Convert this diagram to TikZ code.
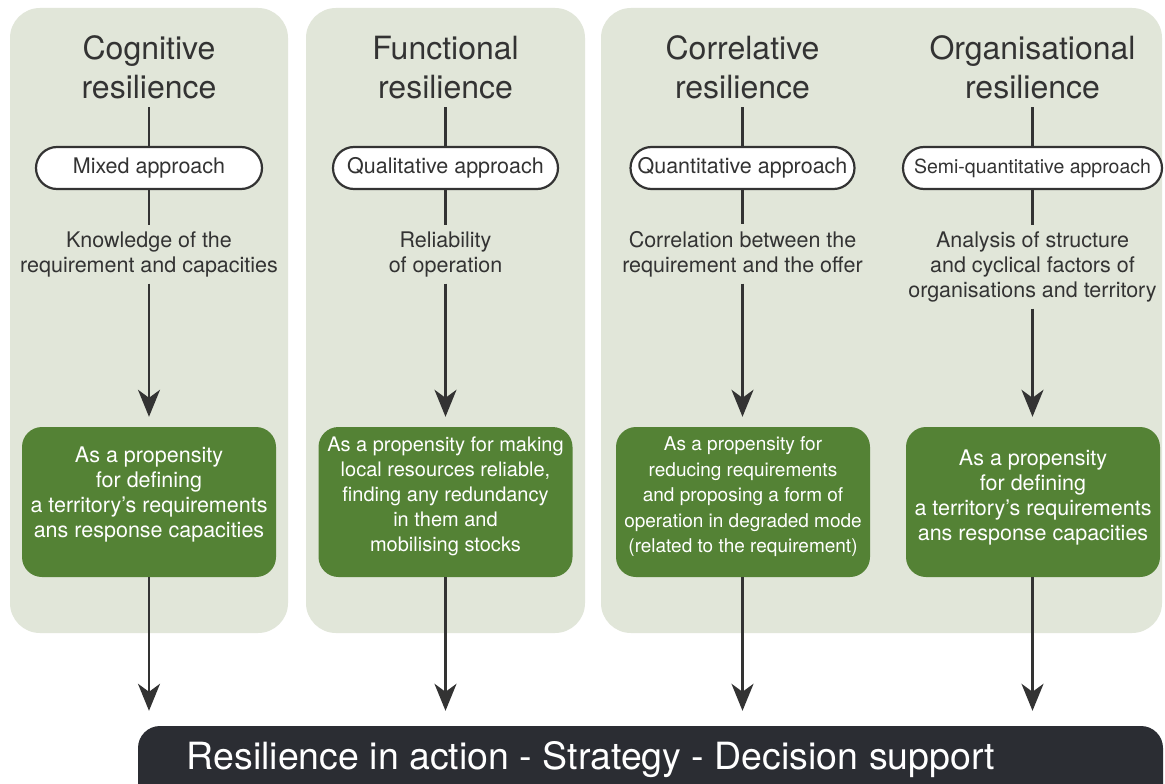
\documentclass[tikz,border=0pt]{standalone}
\usepackage{fontspec}
\setmainfont{TeX Gyre Heros}
\usetikzlibrary{arrows.meta}
\definecolor{panelc}{RGB}{225,230,217}
\definecolor{greenc}{RGB}{84,130,53}
\definecolor{barc}{RGB}{43,45,51}
\definecolor{inkc}{RGB}{51,51,51}
\begin{document}
\begin{tikzpicture}[x=1pt,y=-1pt,
  panel/.style={fill=panelc, rounded corners=30pt},
  ttl/.style={text=inkc, font=\fontsize{32}{39}\selectfont, align=center, inner sep=0pt, anchor=south},
  pill/.style={draw=inkc, line width=2.2pt, fill=white, rounded corners=21pt, minimum height=42pt, inner sep=0pt, text=inkc, font=\fontsize{21.5}{25}\selectfont},
  desc/.style={text=inkc, font=\fontsize{21.5}{25}\selectfont, align=center, inner sep=0pt, anchor=south},
  gbox/.style={fill=greenc, rounded corners=20pt, minimum width=254pt, minimum height=150pt, text=white, align=center, inner sep=0pt},
  link/.style={draw=inkc, line width=2.2pt},
  arr/.style={link, -{Stealth[length=27pt,width=22pt,inset=8pt]}},
]
\useasboundingbox (0,0) rectangle (1165,784);
\fill[white] (0,0) rectangle (1165,784);
% panels
\fill[panel] (10,8) rectangle (288,633);
\fill[panel] (306,8) rectangle (585,633);
\fill[panel] (601,8) rectangle (1162,633);
% bottom bar
\begin{scope}
\clip (0,0) rectangle (1165,784);
\fill[barc, rounded corners=22pt] (138,726) rectangle (1163,830);
\end{scope}
\node[text=white, font=\fontsize{37.5}{40}\selectfont, minimum height=68pt, inner sep=0pt] (bar) at (591,760) {Resilience in action - Strategy - Decision support};

% titles
\node[ttl] (t1) at (149,99) {Cognitive\\resilience};
\node[ttl] (t2) at (445.5,99) {Functional\\resilience};
\node[ttl] (t3) at (742.5,99) {Correlative\\resilience};
\node[ttl] (t4) at (1032.5,99) {Organisational\\resilience};

% pills
\node[pill, minimum width=226pt] (p1) at (149,168) {Mixed approach};
\node[pill, minimum width=225pt] (p2) at (445.5,168) {Qualitative approach};
\node[pill, minimum width=224pt] (p3) at (742.5,168) {Quantitative approach};
\node[pill, minimum width=259pt, font=\fontsize{19.5}{25}\selectfont] (p4) at (1032.5,168) {Semi-quantitative approach};

% descriptions
\node[desc] (d1) at (149,277.5) {Knowledge of the\\requirement and capacities};
\node[desc] (d2) at (445.5,277.5) {Reliability\\of operation};
\node[desc] (d3) at (742.5,277.5) {Correlation between the\\requirement and the offer};
\node[desc] (d4) at (1032.5,302.5) {Analysis of structure\\and cyclical factors of\\organisations and territory};

% green boxes
\node[gbox, font=\fontsize{21.5}{25}\selectfont] (g1) at (149,502) {As a propensity\\for defining\\a territory’s requirements\\ans response capacities\rule[-20pt]{0pt}{20pt}};
\node[gbox, font=\fontsize{20}{25}\selectfont] (g2) at (445.5,502) {As a propensity for making\\local resources reliable,\\finding any redundancy\\in them and\\mobilising stocks\rule[-15pt]{0pt}{15pt}};
\node[gbox, font=\fontsize{19}{25.5}\selectfont] (g3) at (743,502) {As a propensity for\\reducing requirements\\and proposing a form of\\operation in degraded mode\\(related to the requirement)\rule[-14pt]{0pt}{14pt}};
\node[gbox, font=\fontsize{21.5}{25}\selectfont] (g4) at (1033,502) {As a propensity\\for defining\\a territory’s requirements\\ans response capacities\rule[-14pt]{0pt}{14pt}};

% connectors
\foreach \i in {1,2,3,4}{
  \draw[link, shorten <=8pt] (t\i) -- (p\i);
  \draw[link, shorten >=7pt] (p\i) -- (d\i);
  \draw[arr, shorten <=6pt, shorten >=10pt] (d\i) -- (d\i |- g\i.north);
  \draw[arr, shorten >=15pt] (g\i.south -| d\i) -- (d\i |- bar.north);
}
\end{tikzpicture}
\end{document}
